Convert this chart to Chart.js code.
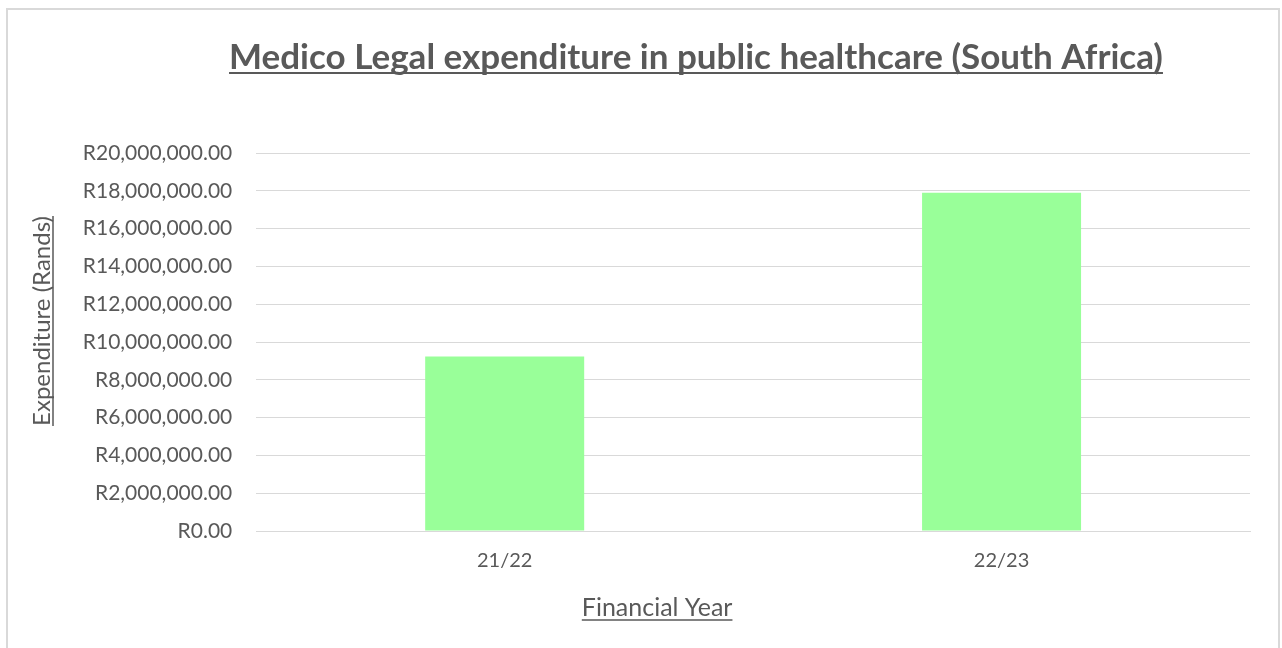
<!DOCTYPE html>
<html>
<head>
<meta charset="utf-8">
<script src="https://cdn.jsdelivr.net/npm/chart.js@4/dist/chart.umd.min.js"></script>
<style>
  html, body { margin: 0; padding: 0; background: #fff; }
  #wrap { position: relative; width: 1282px; height: 648px; overflow: hidden; }
  #frame { position: absolute; left: 6px; top: 8px; width: 1274px; height: 700px; border: 2px solid #d9d9d9; box-sizing: border-box; }
  canvas { position: absolute; left: 0; top: 0; }
</style>
</head>
<body>
<div id="wrap">
  <div id="frame"></div>
  <canvas id="c" width="1282" height="648"></canvas>
</div>
<script>
const categories = ['21/22', '22/23'];
const expenditure = [9230000, 17900000];
const yTickValues = [0, 2000000, 4000000, 6000000, 8000000, 10000000, 12000000, 14000000, 16000000, 18000000, 20000000];
const chartTitle = 'Medico Legal expenditure in public healthcare (South Africa)';
const xTitle = 'Financial Year';
const yTitle = 'Expenditure (Rands)';

const FONT = 'Lato, "Open Sans", sans-serif';
const GREY = '#595959';
const TITLE_SHIFT = 62;
const XTITLE_SHIFT = -96;
const YTITLE_SHIFT = -21;

function fmt(v) {
  return 'R' + v.toLocaleString('en-US', { minimumFractionDigits: 2, maximumFractionDigits: 2 });
}

function shiftTitle(scale, dx, dy) {
  if (scale._titleShifted) return;
  const orig = scale.drawTitle;
  scale.drawTitle = function () {
    const ctx = this.ctx;
    ctx.save();
    ctx.translate(dx, dy);
    orig.apply(this, arguments);
    ctx.restore();
  };
  scale._titleShifted = true;
}

const underline = {
  id: 'underline',
  afterLayout(chart) {
    const tb = chart.titleBlock;
    if (tb) { tb.left += TITLE_SHIFT * 2; }
    shiftTitle(chart.scales.x, XTITLE_SHIFT, 0);
    shiftTitle(chart.scales.y, 0, YTITLE_SHIFT);
  },
  afterDraw(chart) {
    const ctx = chart.ctx;
    ctx.save();
    ctx.strokeStyle = GREY;
    const tb = chart.titleBlock;
    if (tb) {
      const o = tb.options;
      const f = Chart.helpers.toFont(o.font);
      const pad = Chart.helpers.toPadding(o.padding);
      ctx.font = f.string;
      const w = ctx.measureText(o.text).width;
      const cxT = (tb.left + tb.right) / 2;
      const cy = tb.top + pad.top + f.lineHeight / 2;
      const uy = Math.round(cy + f.size * 0.42);
      ctx.lineWidth = 2;
      ctx.beginPath();
      ctx.moveTo(cxT - w / 2, uy);
      ctx.lineTo(cxT + w / 2, uy);
      ctx.stroke();
    }
    ctx.lineWidth = 1.5;
    const xs = chart.scales.x;
    {
      const t = xs.options.title;
      const f = Chart.helpers.toFont(t.font);
      const pad = Chart.helpers.toPadding(t.padding);
      ctx.font = f.string;
      const w = ctx.measureText(t.text).width;
      const cx = (xs.left + xs.right) / 2 + XTITLE_SHIFT;
      const cy = xs.bottom - (f.lineHeight / 2 + pad.bottom);
      const uy = Math.round(cy + f.size * 0.46);
      ctx.beginPath();
      ctx.moveTo(cx - w / 2, uy);
      ctx.lineTo(cx + w / 2, uy);
      ctx.stroke();
    }
    const ys = chart.scales.y;
    {
      const t = ys.options.title;
      const f = Chart.helpers.toFont(t.font);
      const pad = Chart.helpers.toPadding(t.padding);
      ctx.font = f.string;
      const w = ctx.measureText(t.text).width;
      const cy = (ys.top + ys.bottom) / 2 + YTITLE_SHIFT;
      const cx = ys.left + f.lineHeight / 2 + pad.top;
      const ux = Math.round(cx + f.size * 0.46);
      ctx.beginPath();
      ctx.moveTo(ux, cy - w / 2);
      ctx.lineTo(ux, cy + w / 2);
      ctx.stroke();
    }
    ctx.restore();
  }
};

new Chart(document.getElementById('c'), {
  type: 'bar',
  data: {
    labels: categories,
    datasets: [{
      label: 'Expenditure',
      data: expenditure,
      backgroundColor: '#99ff99',
      borderWidth: 0,
      categoryPercentage: 0.64,
      barPercentage: 0.5
    }]
  },
  options: {
    responsive: false,
    animation: false,
    devicePixelRatio: 1,
    layout: { padding: { top: 37, left: 18, right: 32, bottom: 25 } },
    plugins: {
      legend: { display: false },
      tooltip: { enabled: false },
      title: {
        display: true,
        text: chartTitle,
        color: GREY,
        font: { family: FONT, size: 35, weight: 'bold' },
        padding: { top: 0, bottom: 74 }
      }
    },
    scales: {
      x: {
        grid: { display: false, drawTicks: false },
        border: { color: '#d9d9d9' },
        ticks: { color: GREY, font: { family: FONT, size: 20 }, padding: 18 },
        title: {
          display: true,
          text: xTitle,
          color: GREY,
          font: { family: FONT, size: 25 },
          padding: { top: 2, bottom: 0 }
        }
      },
      y: {
        min: 0,
        max: 20000000,
        afterBuildTicks(scale) { scale.ticks = yTickValues.map(v => ({ value: v })); },
        grid: { color: '#d9d9d9', drawTicks: false },
        border: { display: false },
        ticks: {
          color: GREY,
          font: { family: FONT, size: 21 },
          padding: 24,
          callback: (v) => fmt(v)
        },
        title: {
          display: true,
          text: yTitle,
          color: GREY,
          font: { family: FONT, size: 24 },
          padding: { top: 10, bottom: 2 }
        }
      }
    }
  },
  plugins: [underline]
});
</script>
</body>
</html>
